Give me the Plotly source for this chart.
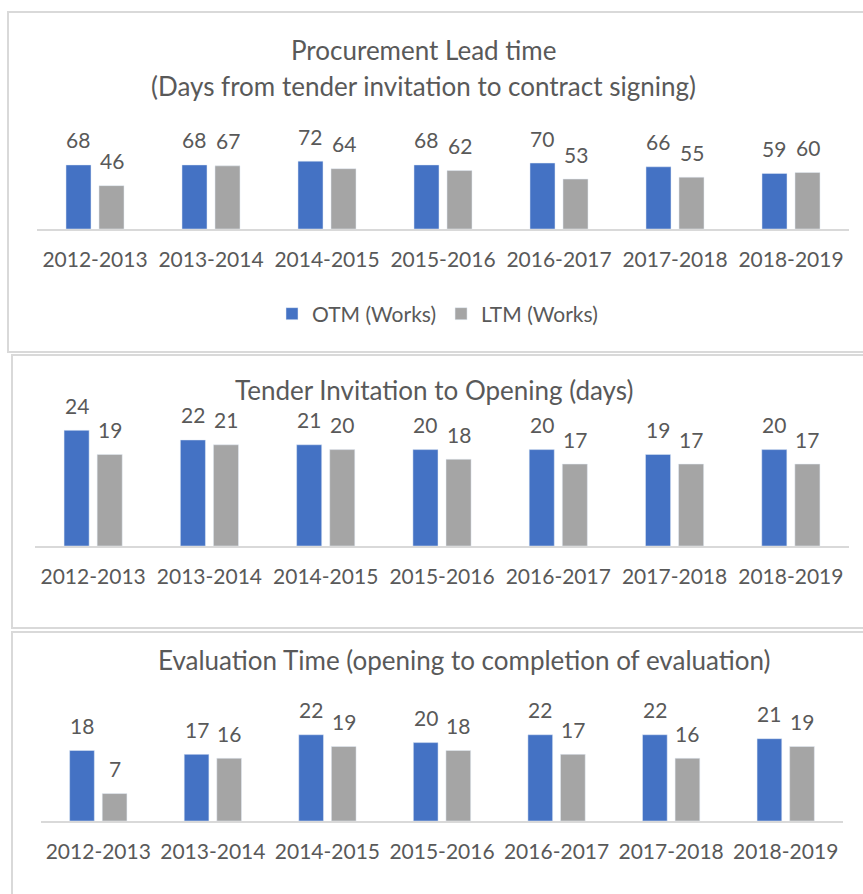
import plotly.graph_objects as go

W, H = 863, 894

years = ['2012-2013', '2013-2014', '2014-2015', '2015-2016', '2016-2017', '2017-2018', '2018-2019']

otm_lead = [68, 68, 72, 68, 70, 66, 59]
ltm_lead = [46, 67, 64, 62, 53, 55, 60]
otm_open = [24, 22, 21, 20, 20, 19, 20]
ltm_open = [19, 21, 20, 18, 17, 17, 17]
otm_eval = [18, 17, 22, 20, 22, 22, 21]
ltm_eval = [7, 16, 19, 18, 17, 16, 19]

series_names = ['OTM (Works)', 'LTM (Works)']
titles = [
    ['Procurement Lead time', '(Days from tender invitation to contract signing)'],
    ['Tender Invitation to Opening (days)'],
    ['Evaluation Time (opening to completion of evaluation)'],
]

BLUE = '#4472C4'
GREY = '#A5A5A5'
TEXT = '#595959'
FONT = 'Lato'
BARGAP = 0.431


def px(x):
    return x / W


def py(y):
    return 1 - y / H


# per panel layout in pixels: x span of the plot, top / baseline of the plot,
# y range, title line positions, panel border box
panels = [
    dict(otm=otm_lead, ltm=ltm_lead, x0=37, x1=849, top=153.6, base=229, yrange=[0, 80],
         title_y=[50, 86], title_x=423, box=[8, 12, 880, 352]),
    dict(otm=otm_open, ltm=ltm_open, x0=35, x1=849, top=401.4, base=546, yrange=[0, 30],
         title_y=[390], title_x=434, box=[12, 355, 880, 628]),
    dict(otm=otm_eval, ltm=ltm_eval, x0=41, x1=843, top=723, base=821, yrange=[0, 25],
         title_y=[660], title_x=464, box=[12, 632, 880, 910]),
]

fig = go.Figure()
annotations = []
shapes = []

for i, p in enumerate(panels):
    n = '' if i == 0 else str(i + 1)
    xa, ya = 'x' + n, 'y' + n
    fig.add_trace(go.Bar(x=years, y=p['otm'], name=series_names[0], marker_color=BLUE,
                         xaxis=xa, yaxis=ya, showlegend=(i == 0), legendrank=1))
    fig.add_trace(go.Bar(x=years, y=p['ltm'], name=series_names[1], marker_color=GREY,
                         xaxis=xa, yaxis=ya, showlegend=(i == 0), legendrank=2))

    fig.update_layout({
        'xaxis' + n: dict(domain=[px(p['x0']), px(p['x1'])], anchor=ya, showline=True,
                          linecolor='#D9D9D9', linewidth=2, showgrid=False, ticks='',
                          tickfont=dict(size=21, color=TEXT, family=FONT),
                          ticklabelstandoff=11, fixedrange=True),
        'yaxis' + n: dict(domain=[py(p['base']), py(p['top'])], anchor=xa, range=p['yrange'],
                          visible=False, showgrid=False, fixedrange=True),
    })

    # data labels above each bar
    shift = (p['x1'] - p['x0']) / len(years) * (1 - BARGAP) / 4
    for vals, sx in ((p['otm'], -shift), (p['ltm'], shift)):
        for yr, v in zip(years, vals):
            annotations.append(dict(x=yr, y=v, xref=xa, yref=ya, text=str(v), showarrow=False,
                                    xshift=sx, yshift=25, yanchor='middle',
                                    font=dict(size=21, color=TEXT, family=FONT)))

    for line, ty in zip(titles[i], p['title_y']):
        annotations.append(dict(x=px(p['title_x']), y=py(ty), xref='paper', yref='paper',
                                text=line, showarrow=False, xanchor='center', yanchor='middle',
                                font=dict(size=26, color=TEXT, family=FONT)))

    bx0, by0, bx1, by1 = p['box']
    shapes.append(dict(type='rect', xref='paper', yref='paper', x0=px(bx0), x1=px(bx1),
                       y0=py(by1), y1=py(by0), line=dict(color='#D9D9D9', width=2)))

fig.update_layout(
    width=W,
    height=H,
    autosize=False,
    margin=dict(l=0, r=0, t=0, b=0),
    barmode='group',
    bargap=BARGAP,
    bargroupgap=0.242,
    plot_bgcolor='white',
    paper_bgcolor='white',
    font=dict(family=FONT, color=TEXT),
    showlegend=True,
    legend=dict(orientation='h', x=px(272), y=py(314), xanchor='left', yanchor='middle',
                font=dict(size=21, color=TEXT, family=FONT), bgcolor='rgba(0,0,0,0)'),
    annotations=annotations,
    shapes=shapes,
)

fig.write_html("out.html", config={'displayModeBar': False},
               post_script="document.body.style.margin='0';")
